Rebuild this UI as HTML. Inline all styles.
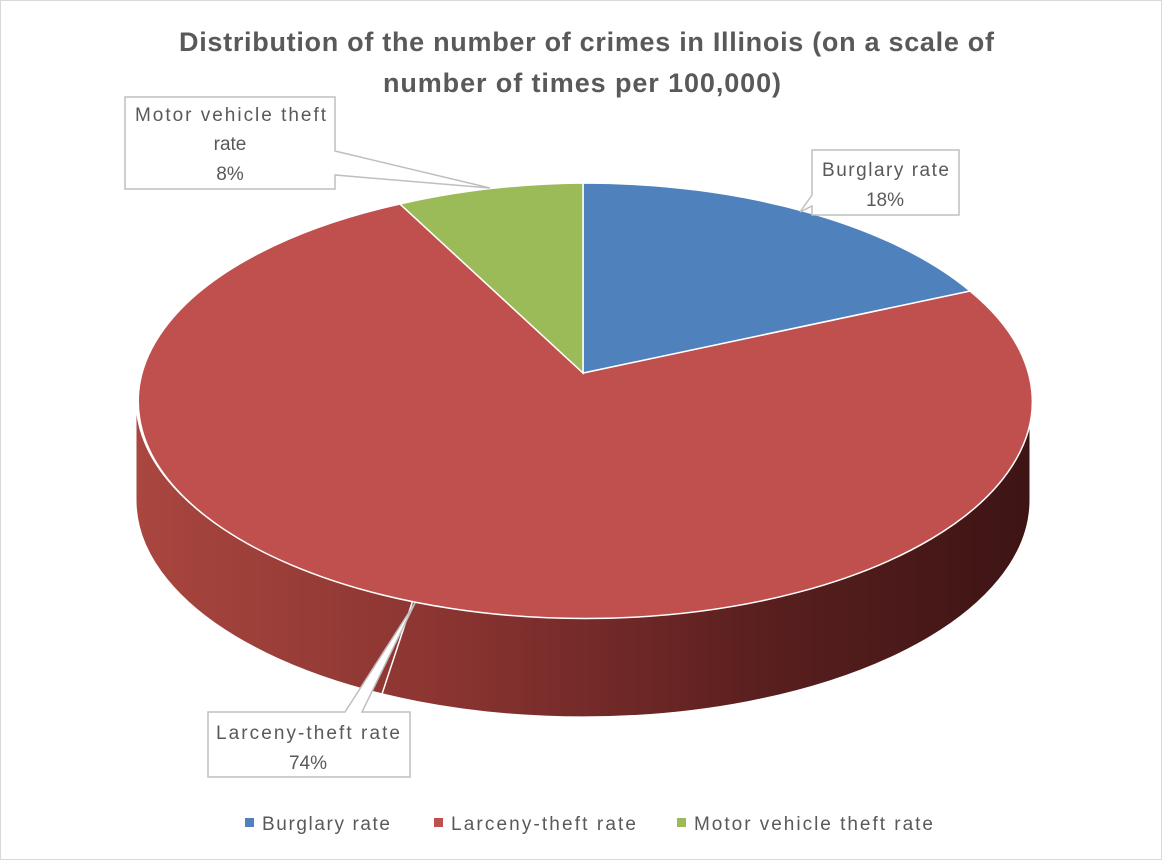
<!DOCTYPE html>
<html><head><meta charset="utf-8"><style>
body{margin:0;background:#fff;width:1162px;height:860px;overflow:hidden}
svg{display:block}
text{font-family:"Liberation Sans",sans-serif;fill:#595959}
</style></head><body>
<svg width="1162" height="860" viewBox="0 0 1162 860">
<rect x="0.5" y="0.5" width="1161" height="859" fill="#fff" stroke="#d9d9d9"/>
<defs>
<linearGradient id="side" x1="0" x2="1" y1="0" y2="0">
<stop offset="0" stop-color="#a9463f"/><stop offset="0.35" stop-color="#8a3431"/><stop offset="0.7" stop-color="#5a1f1f"/><stop offset="1" stop-color="#3d1414"/>
</linearGradient>
</defs>
<text x="179" y="51" font-size="27" font-weight="bold" textLength="815" lengthAdjust="spacing">Distribution of the number of crimes in Illinois (on a scale of</text>
<text x="383" y="92" font-size="27" font-weight="bold" textLength="398" lengthAdjust="spacing">number of times per 100,000)</text>
<path d="M136,400 A447,217 0 0 0 1030,400 L1030,500 A447,217 0 0 1 136,500 Z" fill="url(#side)" stroke="#fff" stroke-width="1"/>
<line x1="413" y1="600" x2="380" y2="700" stroke="#fff" stroke-width="1.5"/>
<path d="M583,373 L400,204 A447,217 0 1 0 970,291 Z" fill="#c0504d" stroke="#fff" stroke-width="1.5"/>
<path d="M583,373 L583,183 A447,217 0 0 1 970,291 Z" fill="#4f81bd" stroke="#fff" stroke-width="1.5"/>
<path d="M583,373 L400,204 A447,217 0 0 1 583,183 Z" fill="#9bbb59" stroke="#fff" stroke-width="1.5"/>
<path d="M125,97 L335,97 L335,151 L490,188 L335,175 L335,189 L125,189 Z" fill="#fff" stroke="#bfbfbf" stroke-width="1.5"/>
<text x="135" y="121" font-size="19" textLength="191" lengthAdjust="spacing">Motor vehicle theft</text>
<text x="230" y="150" font-size="19" text-anchor="middle">rate</text>
<text x="230" y="180" font-size="19" text-anchor="middle">8%</text>
<path d="M812,150 L959,150 L959,215 L812,215 L812,206 L800,212 L812,195 Z" fill="#fff" stroke="#bfbfbf" stroke-width="1.5"/>
<text x="822" y="176" font-size="19" textLength="127" lengthAdjust="spacing">Burglary rate</text>
<text x="885" y="206" font-size="19" text-anchor="middle">18%</text>
<path d="M208,712 L345,712 L415,603 L362,712 L410,712 L410,777 L208,777 Z" fill="#fff" stroke="#bfbfbf" stroke-width="1.5"/>
<text x="216" y="739" font-size="19" textLength="184" lengthAdjust="spacing">Larceny-theft  rate</text>
<text x="308" y="769" font-size="19" text-anchor="middle">74%</text>
<rect x="245" y="818" width="9" height="9" fill="#4f81bd"/>
<text x="262" y="830" font-size="19" textLength="128" lengthAdjust="spacing">Burglary rate</text>
<rect x="434" y="818" width="9" height="9" fill="#c0504d"/>
<text x="451" y="830" font-size="19" textLength="185" lengthAdjust="spacing">Larceny-theft  rate</text>
<rect x="677" y="818" width="9" height="9" fill="#9bbb59"/>
<text x="694" y="830" font-size="19" textLength="239" lengthAdjust="spacing">Motor vehicle theft rate</text>
</svg>
</body></html>
